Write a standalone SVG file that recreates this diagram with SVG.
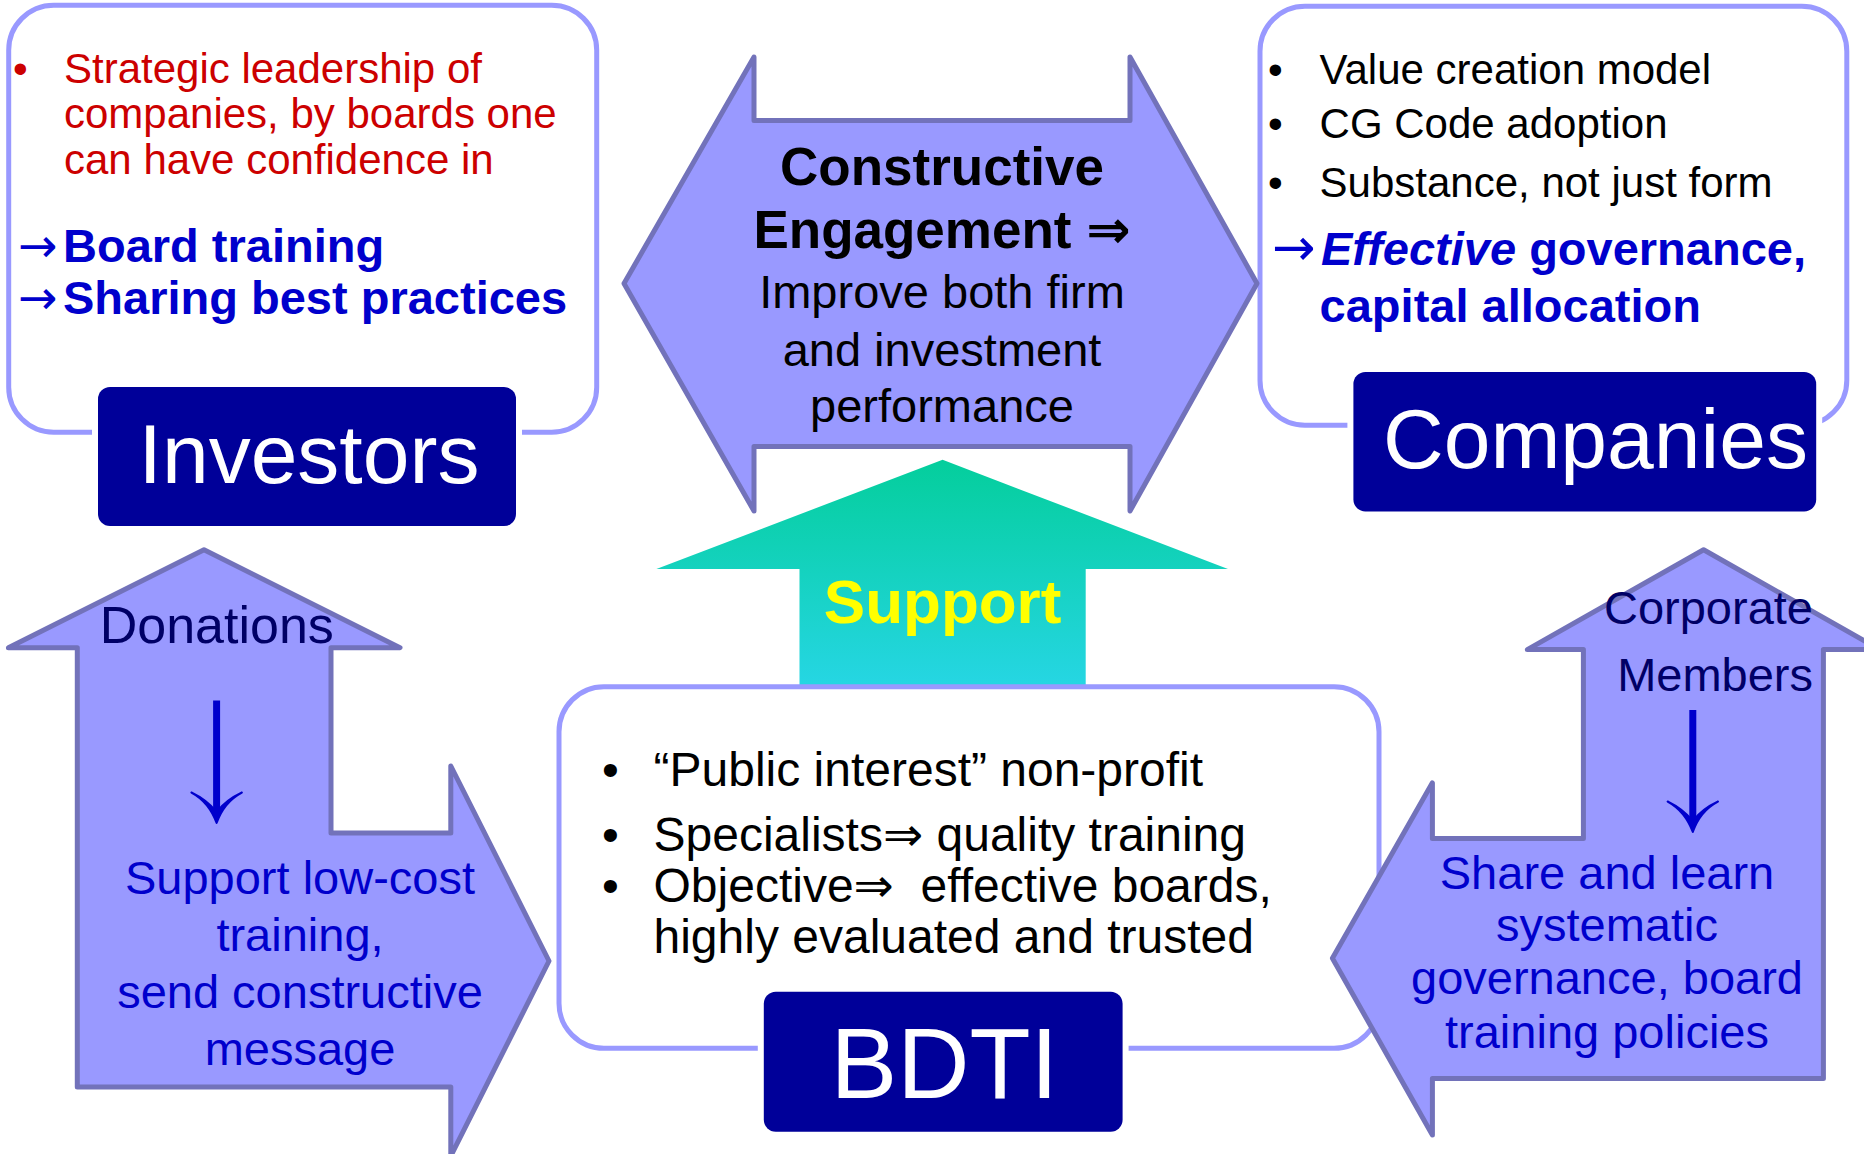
<svg xmlns="http://www.w3.org/2000/svg" width="1864" height="1154" viewBox="0 0 1864 1154">
<defs>
<linearGradient id="supGrad" x1="0" y1="0" x2="0" y2="1">
<stop offset="0" stop-color="#04CE9C"/>
<stop offset="1" stop-color="#26D6E4"/>
</linearGradient>
<style>
text{font-family:"Liberation Sans",Arial,"DejaVu Sans",sans-serif;}
.outline{fill:#FFFFFF;stroke:#9999FF;stroke-width:5;}
.gap{fill:#FFFFFF;}
.navy{fill:#000099;}
.title{fill:#FFFFFF;font-size:84px;}
.arrowshape{fill:#9999FF;stroke:#7272BA;stroke-width:5;stroke-linejoin:round;}
.red{fill:#CC0000;font-size:42px;}
.blk42{fill:#000000;font-size:42px;}
.blk48{fill:#000000;font-size:48px;}
.blk47{fill:#000000;font-size:47px;}
.bb{fill:#0000CC;font-size:47px;font-weight:bold;}
.arr{font-weight:normal;font-family:"DejaVu Sans",sans-serif;font-size:47px;}
.arr2{font-weight:normal;font-family:"DejaVu Sans",sans-serif;font-size:52px;}
.ctr{text-anchor:middle;}
.navytxt{fill:#000066;font-size:47px;}
.bluetxt{fill:#0000CC;font-size:47px;}
.down{stroke:#0000CC;stroke-width:7;fill:none;}
.downhead{fill:#0000CC;stroke:#0000CC;stroke-width:2;stroke-linejoin:round;}
</style>
</defs>
<rect width="1864" height="1154" fill="#FFFFFF"/>

<g id="investors">
<rect class="outline" x="8.7" y="5.2" width="588" height="427" rx="45"/>
<text class="red" x="13" y="82.6">•</text>
<text class="red" x="64" y="82.6">Strategic leadership of</text>
<text class="red" x="64" y="128.1">companies, by boards one</text>
<text class="red" x="64" y="173.9">can have confidence in</text>
<text class="bb" x="18" y="262"><tspan class="arr">→</tspan><tspan x="63">Board training</tspan></text>
<text class="bb" x="18" y="313.5"><tspan class="arr">→</tspan><tspan x="63">Sharing best practices</tspan></text>
<rect class="gap" x="92" y="381" width="430" height="151"/>
<rect class="navy" x="98" y="387" width="418" height="139" rx="12"/>
<text class="title ctr" x="309" y="483">Investors</text>
</g>

<g id="companies">
<rect class="outline" x="1260" y="6.2" width="586.8" height="419" rx="45"/>
<text class="blk42" x="1268" y="84.4">•</text>
<text class="blk42" x="1319.6" y="84.4">Value creation model</text>
<text class="blk42" x="1268" y="137.7">•</text>
<text class="blk42" x="1319.6" y="137.7">CG Code adoption</text>
<text class="blk42" x="1268" y="197">•</text>
<text class="blk42" x="1319.6" y="197">Substance, not just form</text>
<text class="bb" x="1272" y="264.5"><tspan class="arr2">→</tspan><tspan x="1321" font-style="italic">Effective</tspan> governance,</text>
<text class="bb" x="1319.6" y="322">capital allocation</text>
<rect class="gap" x="1347.4" y="366" width="474.8" height="151.4"/>
<rect class="navy" x="1353.4" y="372" width="462.8" height="139.4" rx="12"/>
<text class="title" x="1383" y="468.3">Companies</text>
</g>

<g id="connectors">
<g id="engagement">
<polygon class="arrowshape" points="624,283.5 754,57 754,120.5 1130,120.5 1130,57 1257,283.5 1130,511 1130,446.4 754,446.4 754,511"/>
<text class="ctr" x="942" y="185" style="font-size:53px;font-weight:bold;fill:#000000">Constructive</text>
<text class="ctr" x="942" y="248" style="font-size:53px;font-weight:bold;fill:#000000">Engagement ⇒</text>
<text class="blk47 ctr" x="942" y="308">Improve both firm</text>
<text class="blk47 ctr" x="942" y="366">and investment</text>
<text class="blk47 ctr" x="942" y="422">performance</text>
</g>
<g id="support">
<polygon points="942.6,459.8 1228,569 1085.7,569 1085.7,688 799.5,688 799.5,569 656.4,569" fill="url(#supGrad)"/>
<text class="ctr" x="942.6" y="622.8" style="font-size:62px;font-weight:bold;fill:#FFFF00">Support</text>
</g>
<g id="donations">
<polygon class="arrowshape" points="204,549.8 400,647.7 331,647.7 331,833 450.8,833 450.8,766 549,961 450.8,1156 450.8,1087 77.3,1087 77.3,647.7 8.4,647.7"/>
<text class="navytxt ctr" x="216.8" y="642.6" style="font-size:52px">Donations</text>
<line class="down" x1="216.6" y1="700.5" x2="216.6" y2="814"/>
<path class="downhead" d="M191.4,792.5 Q209,802 216.6,823 Q224,802 241.9,792.5 Q226,800 216.6,812 Q207,800 191.4,792.5 Z"/>
<text class="bluetxt ctr" x="300" y="894">Support low-cost</text>
<text class="bluetxt ctr" x="300" y="951">training,</text>
<text class="bluetxt ctr" x="300" y="1008">send constructive</text>
<text class="bluetxt ctr" x="300" y="1065">message</text>
</g>
</g>

<g id="bdti">
<rect class="outline" x="559" y="686.7" width="820" height="361.6" rx="45"/>
<text class="blk48" x="602" y="786">•</text>
<text class="blk48" x="653.5" y="786">“Public interest” non-profit</text>
<text class="blk48" x="602" y="850.7">•</text>
<text class="blk48" x="653.5" y="850.7">Specialists⇒ quality training</text>
<text class="blk48" x="602" y="901.7">•</text>
<text class="blk48" x="653.5" y="901.7" xml:space="preserve">Objective⇒  effective boards,</text>
<text class="blk48" x="653.5" y="953.3">highly evaluated and trusted</text>
<rect class="gap" x="757.8" y="985.7" width="370.8" height="152"/>
<rect class="navy" x="763.8" y="991.7" width="358.8" height="140" rx="12"/>
<text class="title ctr" x="944.5" y="1098" style="font-size:100px">BDTI</text>
</g>

<g id="members-arrow">
<polygon class="arrowshape" points="1703.6,549.8 1880,649.6 1823.4,649.6 1823.4,1078.4 1432.4,1078.4 1432.4,1135 1332.4,958.2 1432.4,782.8 1432.4,838.4 1583.4,838.4 1583.4,649.6 1527.3,649.6"/>
<text class="navytxt" x="1813" y="624" text-anchor="end">Corporate</text>
<text class="navytxt" x="1813" y="690.7" text-anchor="end">Members</text>
<line class="down" x1="1692.8" y1="710" x2="1692.8" y2="823"/>
<path class="downhead" d="M1667.6,801.5 Q1685,811 1692.8,832 Q1700,811 1718,801.5 Q1702,809 1692.8,821 Q1683,809 1667.6,801.5 Z"/>
<text class="bluetxt ctr" x="1607" y="888.5">Share and learn</text>
<text class="bluetxt ctr" x="1607" y="941.3">systematic</text>
<text class="bluetxt ctr" x="1607" y="994.2">governance, board</text>
<text class="bluetxt ctr" x="1607" y="1048.2">training policies</text>
</g>
</svg>
